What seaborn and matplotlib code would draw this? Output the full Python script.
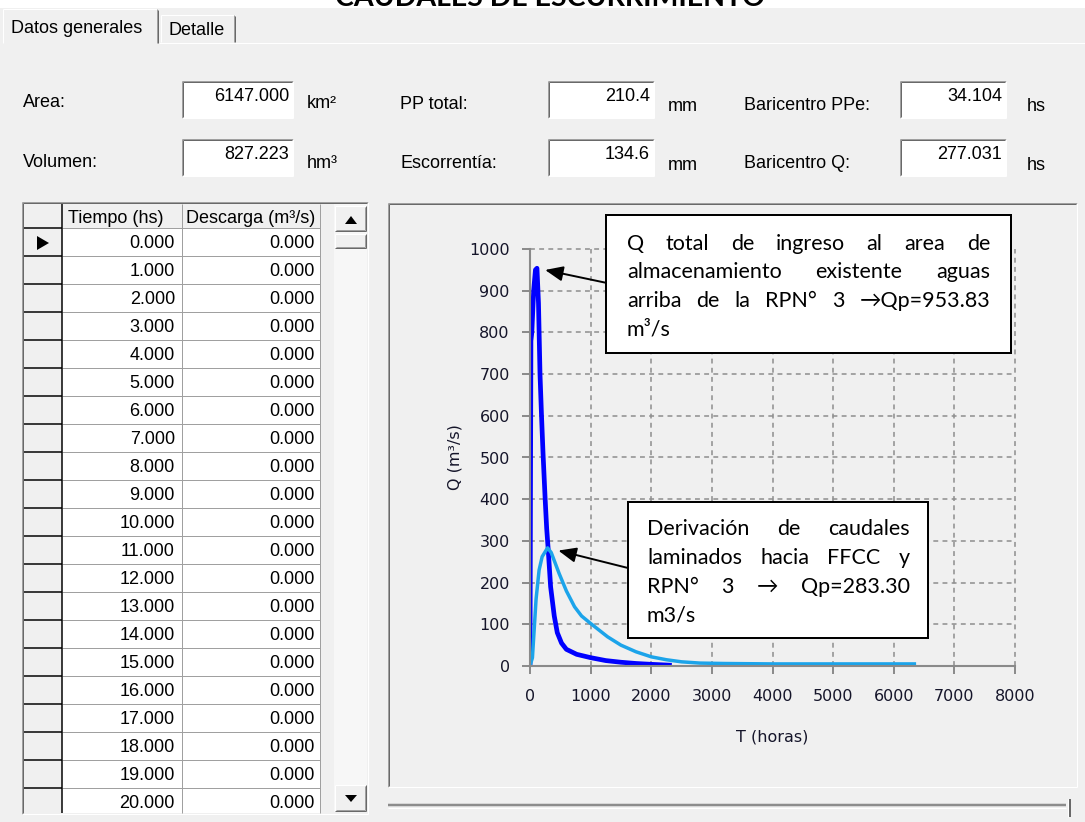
import numpy as np
import pandas as pd
import seaborn as sns
import matplotlib
matplotlib.use("Agg")
import matplotlib.pyplot as plt
from matplotlib.patches import Rectangle, Polygon
from matplotlib.lines import Line2D

# 그림 크기 (픽셀)
W, H = 1085, 822
BG = "#f0f0f0"

# 수문곡선 데이터
t_total = [0, 15, 30, 60, 90, 115, 140, 165, 190, 215, 250, 275, 300, 340, 400, 450,
           520, 600, 770, 1000, 1250, 1500, 1750, 2000, 2300]
q_total = [0, 780, 800, 900, 950, 953.83, 870, 700, 600, 510, 400, 330, 280, 190, 120, 80,
           55, 40, 28, 20, 13, 9, 6, 4, 2]

t_lamin = [0, 40, 70, 100, 150, 200, 290, 350, 480, 600, 735, 850, 1000, 1280, 1500, 1750,
           2000, 2250, 2500, 2800, 3200, 4000, 5000, 6340]
q_lamin = [0, 20, 90, 160, 230, 262, 283.3, 272, 222, 180, 142, 120, 102, 70, 50, 34,
           22, 15, 10, 7, 6, 5, 5, 5]

x_ticks = [0, 1000, 2000, 3000, 4000, 5000, 6000, 7000, 8000]
y_ticks = [0, 100, 200, 300, 400, 500, 600, 700, 800, 900, 1000]

# 상단 입력 칸
field_labels = ["Area:", "Volumen:", "PP total:", "Escorrentía:", "Baricentro PPe:", "Baricentro Q:"]
field_values = ["6147.000", "827.223", "210.4", "134.6", "34.104", "277.031"]
field_units = ["km²", "hm³", "mm", "mm", "hs", "hs"]

# 표 데이터
tiempo = [0.0, 1.0, 2.0, 3.0, 4.0, 5.0, 6.0, 7.0, 8.0, 9.0, 10.0,
          11.0, 12.0, 13.0, 14.0, 15.0, 16.0, 17.0, 18.0, 19.0, 20.0]
descarga = [0.0, 0.0, 0.0, 0.0, 0.0, 0.0, 0.0, 0.0, 0.0, 0.0, 0.0,
            0.0, 0.0, 0.0, 0.0, 0.0, 0.0, 0.0, 0.0, 0.0, 0.0]

# 주석 문장
nota_total = [["Q", "total", "de", "ingreso", "al", "area", "de"],
              ["almacenamiento", "existente", "aguas"],
              ["arriba", "de", "la", "RPN°", "3", "→Qp=953.83"],
              ["m³/s"]]
nota_lamin = [["Derivación", "de", "caudales"],
              ["laminados", "hacia", "FFCC", "y"],
              ["RPN°", "3", "→", "Qp=283.30"],
              ["m3/s"]]

UI = "Liberation Sans"
UI_SIZE = 13
NOTE = ["Lato", "DejaVu Sans"]

fig = plt.figure(figsize=(W / 100, H / 100), dpi=100, facecolor=BG)


def R(x0, y0, x1, y1, fc, z=1, ec="none", lw=0):
    fig.add_artist(Rectangle((x0 / W, 1 - y1 / H), (x1 - x0) / W, (y1 - y0) / H,
                             transform=fig.transFigure, facecolor=fc, edgecolor=ec,
                             linewidth=lw * 0.72, zorder=z))


def L(x0, y0, x1, y1, c, lw=1, z=2):
    fig.add_artist(Line2D([x0 / W, x1 / W], [1 - y0 / H, 1 - y1 / H], transform=fig.transFigure,
                          color=c, lw=lw * 0.72, zorder=z, solid_capstyle="butt"))


def T(x, y, s, size=UI_SIZE, ha="left", va="baseline", family=UI, z=4, color="black", **kw):
    return fig.text(x / W, 1 - y / H, s, fontsize=size, ha=ha, va=va, family=family,
                    zorder=z, color=color, **kw)


def P(pts, c="black", z=4):
    fig.add_artist(Polygon([(x / W, 1 - y / H) for x, y in pts], closed=True,
                           transform=fig.transFigure, facecolor=c, edgecolor="none", zorder=z))


def sunken(x0, y0, x1, y1, fc, z=1):
    R(x0, y0, x1, y1, fc, z)
    L(x0, y0, x1, y0, "#a0a0a0", 1, z + 0.1)
    L(x0, y0, x0, y1, "#a0a0a0", 1, z + 0.1)
    L(x0 + 1, y0 + 1, x1 - 1, y0 + 1, "#696969", 1, z + 0.1)
    L(x0 + 1, y0 + 1, x0 + 1, y1 - 1, "#696969", 1, z + 0.1)
    L(x0, y1, x1, y1, "#ffffff", 1, z + 0.1)
    L(x1, y0, x1, y1, "#ffffff", 1, z + 0.1)


def raised(x0, y0, x1, y1, fc, z=2):
    R(x0, y0, x1, y1, fc, z)
    L(x0, y0, x1, y0, "#ffffff", 1, z + 0.1)
    L(x0, y0, x0, y1, "#ffffff", 1, z + 0.1)
    L(x0, y1, x1, y1, "#696969", 1, z + 0.1)
    L(x1, y0, x1, y1, "#696969", 1, z + 0.1)
    L(x0 + 1, y1 - 1, x1 - 1, y1 - 1, "#a0a0a0", 1, z + 0.1)
    L(x1 - 1, y0 + 1, x1 - 1, y1 - 1, "#a0a0a0", 1, z + 0.1)


def justified(lines, x0, x1, y0, dy, size, z):
    renderer = fig.canvas.get_renderer()
    for k, words in enumerate(lines):
        y = y0 + k * dy
        arts = [T(x0, y, w, size=size, family=NOTE, z=z) for w in words]
        if len(arts) == 1:
            continue
        widths = [a.get_window_extent(renderer).width for a in arts]
        gap = (x1 - x0 - sum(widths)) / (len(arts) - 1)
        x = x0
        for a, wd in zip(arts, widths):
            a.set_x(x / W)
            x += wd + gap


# 제목 (위쪽이 잘린 부분)
R(0, 0, W, 8, "white", z=1)
T(550, 6, "CAUDALES DE ESCURRIMIENTO", size=20.5, ha="center", family=["Lato", "DejaVu Sans"],
  z=2, weight="bold")

# 탭
L(3, 9, 3, 43, "white")
L(3, 9, 157, 9, "white")
L(157, 9, 157, 43, "#a0a0a0")
L(158, 10, 158, 43, "#696969")
L(161, 15, 161, 42, "white")
L(161, 15, 235, 15, "white")
L(234, 15, 234, 42, "#a0a0a0")
L(235, 16, 235, 42, "#696969")
L(159, 43, W, 43, "white")
T(11, 33, "Datos generales")
T(168, 35, "Detalle")

# 입력 칸
box_x = [(182, 293), (548, 654), (900, 1006)]
label_x = [23, 400, 744]
unit_x = [307, 668, 1027]
box_y = [(81, 118), (139, 176)]
label_base = [[107, 167], [109, 168], [110, 168]]
unit_base = [[108, 168], [111, 170], [111, 170]]
for i, (lab, val, uni) in enumerate(zip(field_labels, field_values, field_units)):
    c, r = i // 2, i % 2
    bx0, bx1 = box_x[c]
    by0, by1 = box_y[r]
    sunken(bx0, by0, bx1, by1, "white", z=1)
    T(label_x[c], label_base[c][r], lab)
    T(bx1 - 4, by0 + 20, val, ha="right")
    T(unit_x[c], unit_base[c][r], uni)

# 표
R(24, 204, 334, 813, BG, z=1)
R(62, 228, 320, 813, "white", z=1.2)
row_h = 28
for i in range(len(tiempo) + 1):
    y = 228 + row_h * i
    L(62, y, 320, y, "#a0a0a0", 1, 1.5)
    L(24, y, 62, y, "black", 1.5, 1.5)
L(62, 204, 62, 813, "black", 1.5, 1.6)
L(182, 204, 182, 813, "#a0a0a0", 1, 1.6)
L(320, 204, 320, 813, "#a0a0a0", 1, 1.6)
T(68, 223, "Tiempo (hs)")
T(186, 223, "Descarga (m³/s)")
for i, (tv, qv) in enumerate(zip(tiempo, descarga)):
    y = 248 + row_h * i
    T(175, y, f"{tv:.3f}", ha="right", z=3)
    T(315, y, f"{qv:.3f}", ha="right", z=3)
P([(37, 236), (37, 250), (49, 243)])

# 스크롤바
R(334, 204, 367, 812, "#f7f7f7", z=1.3)
raised(335, 206, 366, 231, BG)
P([(345, 224), (357, 224), (351, 216)])
raised(335, 234, 366, 248, BG)
raised(335, 785, 366, 811, BG)
P([(345, 795), (357, 795), (351, 802)])
R(22, 814, 372, 822, BG, z=5)
sunken(22, 202, 368, 814, "none", z=5)

# 그래프 패널
sunken(388, 203, 1077, 787, BG, z=1)
L(388, 805, 1066, 805, "#8c8c8c", 2.5, 2)
L(388, 807.5, 1066, 807.5, "#ffffff", 1, 2)
L(1070, 799, 1070, 817, "#696969", 2, 2)
L(1068, 799, 1068, 817, "#ffffff", 1, 2)

# 그래프
ax = fig.add_axes([530 / W, 1 - 666 / H, 485 / W, 417 / H])
ax.set_zorder(3)
ax.patch.set_visible(False)

sns.lineplot(x=t_total, y=q_total, ax=ax, color="#0000ff", linewidth=3.4,
             estimator=None, sort=False)
sns.lineplot(x=t_lamin, y=q_lamin, ax=ax, color="#1ca4ea", linewidth=2.5,
             estimator=None, sort=False)

ax.set_xlim(0, 8000)
ax.set_ylim(0, 1000)
ax.set_xticks(x_ticks)
ax.set_yticks(y_ticks)
for s in ["top", "right"]:
    ax.spines[s].set_visible(False)
for s in ["left", "bottom"]:
    ax.spines[s].set_color("#8a8a8a")
    ax.spines[s].set_linewidth(1.5)
ax.grid(True, color="#8e8e8e", linewidth=1.1, linestyle=(0, (3.2, 2.8)))
ax.set_axisbelow(True)
for tk in ax.xaxis.get_major_ticks() + ax.yaxis.get_major_ticks():
    tk.gridline.set_clip_on(False)
ax.tick_params(axis="both", direction="out", length=5.5, width=1.4, color="#8a8a8a",
               labelsize=11.5, labelcolor="#15152a")
ax.tick_params(axis="x", pad=11)
ax.tick_params(axis="y", pad=9)
for lab in ax.get_xticklabels() + ax.get_yticklabels():
    lab.set_family("DejaVu Sans")
ax.set_xlabel("T (horas)", fontsize=11.5, family="DejaVu Sans", color="#15152a")
ax.set_ylabel("Q (m³/s)", fontsize=11.5, family="DejaVu Sans", color="#15152a")
ax.xaxis.set_label_coords(0.5, -0.153)
ax.yaxis.set_label_coords(-0.14, 0.5)

# 주석 상자
R(606, 215, 1011, 353, "white", z=6, ec="black", lw=2)
justified(nota_total, 627, 990, 250, 28.4, 15.5, 7)
R(628, 502, 928, 638, "white", z=6, ec="black", lw=2)
justified(nota_lamin, 647, 910, 535, 28.8, 15.5, 7)

i_pk = int(np.argmax(q_total))
ax.annotate("", xy=(t_total[i_pk], q_total[i_pk]), xycoords="data",
            xytext=(607 / W, 1 - 283 / H), textcoords="figure fraction",
            arrowprops=dict(arrowstyle="-|>,head_length=0.9,head_width=0.38", color="black",
                            lw=1.4, shrinkA=0, shrinkB=6, mutation_scale=12),
            annotation_clip=False)
j_pk = int(np.argmax(q_lamin))
ax.annotate("", xy=(t_lamin[j_pk], q_lamin[j_pk]), xycoords="data",
            xytext=(628 / W, 1 - 568 / H), textcoords="figure fraction",
            arrowprops=dict(arrowstyle="-|>,head_length=0.9,head_width=0.38", color="black",
                            lw=1.4, shrinkA=0, shrinkB=8, mutation_scale=12),
            annotation_clip=False)

fig.savefig("out.png", dpi=100, facecolor=BG)
